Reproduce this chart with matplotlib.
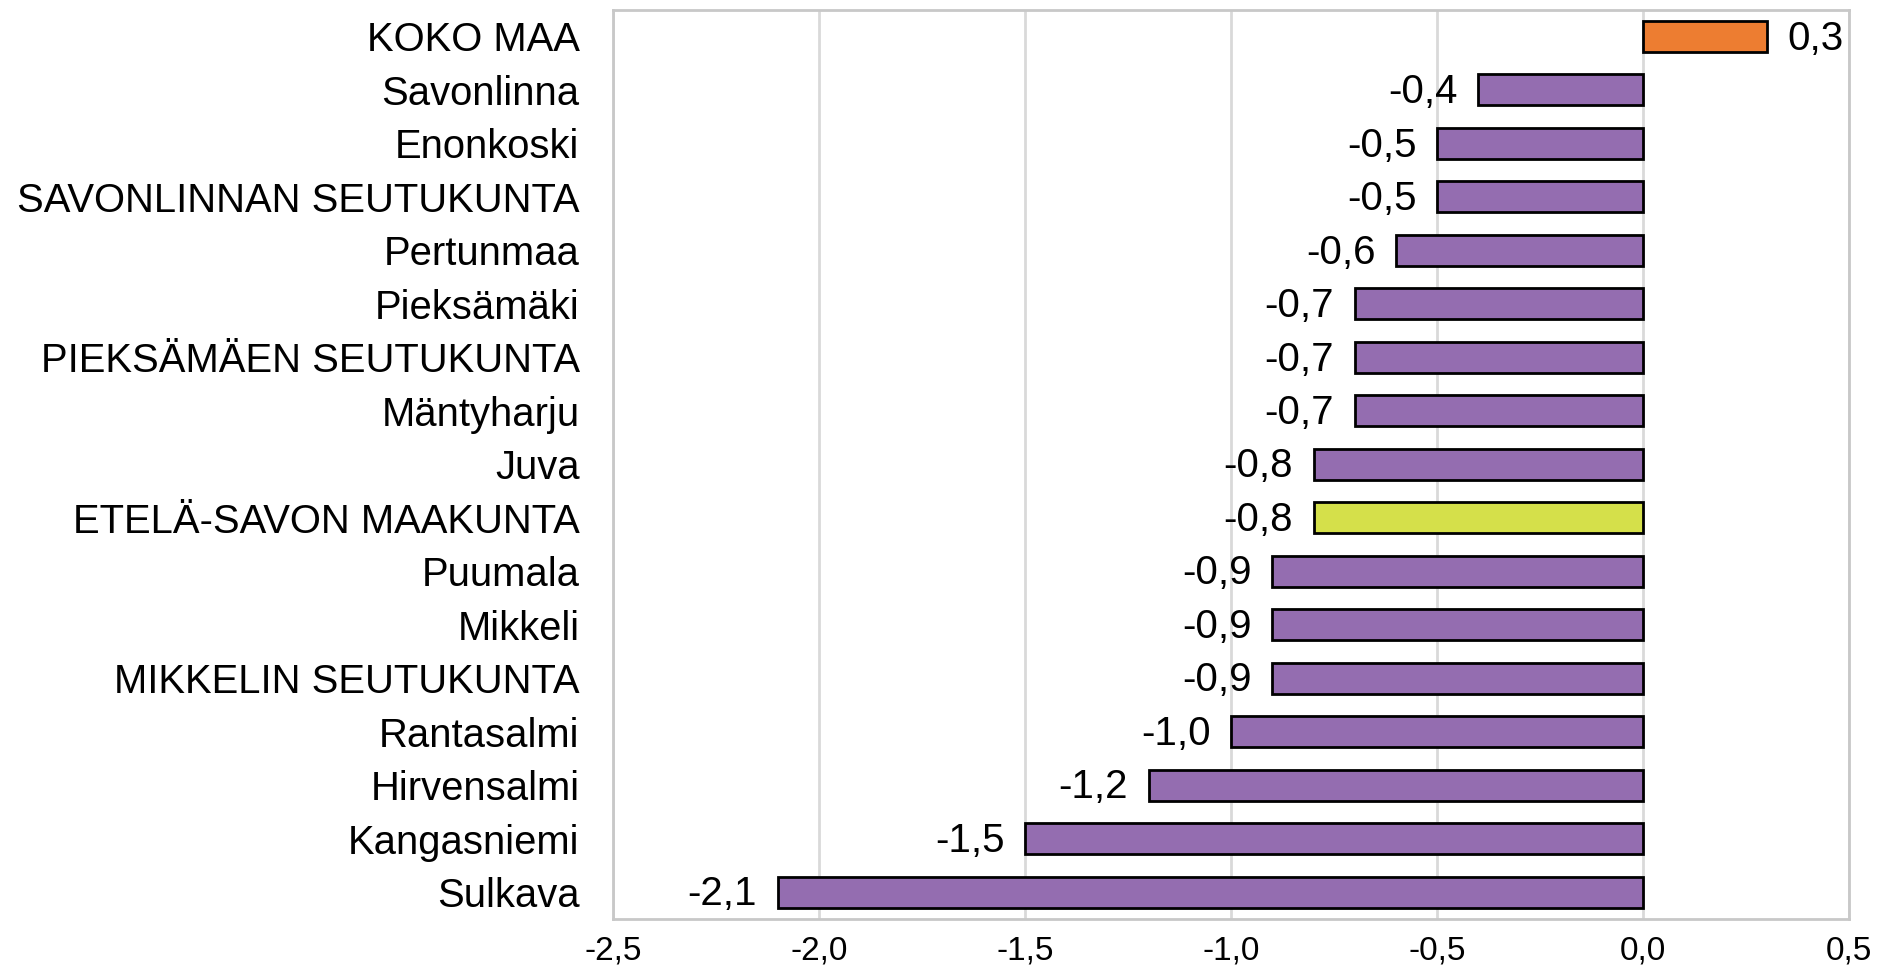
import matplotlib.pyplot as plt
from matplotlib import font_manager

# data
regions = ['KOKO MAA', 'Savonlinna', 'Enonkoski', 'SAVONLINNAN SEUTUKUNTA', 'Pertunmaa',
           'Pieksämäki', 'PIEKSÄMÄEN SEUTUKUNTA', 'Mäntyharju', 'Juva', 'ETELÄ-SAVON MAAKUNTA',
           'Puumala', 'Mikkeli', 'MIKKELIN SEUTUKUNTA', 'Rantasalmi', 'Hirvensalmi',
           'Kangasniemi', 'Sulkava']
change = [0.3, -0.4, -0.5, -0.5, -0.6, -0.7, -0.7, -0.7, -0.8, -0.8,
          -0.9, -0.9, -0.9, -1.0, -1.2, -1.5, -2.1]
xticks = [-2.5, -2.0, -1.5, -1.0, -0.5, 0.0, 0.5]

purple = '#946db0'
colors = []
for r in regions:
    if r == 'KOKO MAA':
        colors.append('#ed7d31')
    elif r == 'ETELÄ-SAVON MAAKUNTA':
        colors.append('#d5e04a')
    else:
        colors.append(purple)

plt.rcParams['font.family'] = ['Liberation Sans', 'DejaVu Sans']
names = {f.name for f in font_manager.fontManager.ttflist}
tick_family = 'Liberation Sans Narrow' if 'Liberation Sans Narrow' in names else 'Liberation Sans'

fig = plt.figure(figsize=(18.77, 9.74), dpi=100)
ax = fig.add_axes([0.3265, 0.0565, 0.6588, 0.9335])

y = list(range(len(regions)))
ax.barh(y, change, height=0.58, color=colors, edgecolor='black', linewidth=2, zorder=3)

for yi, v in zip(y, change):
    s = f'{v:.1f}'.replace('.', ',')
    if v >= 0:
        ax.text(v + 0.05, yi + 0.04, s, va='center', ha='left', fontsize=29)
    else:
        ax.text(v - 0.05, yi + 0.04, s, va='center', ha='right', fontsize=29)

ax.set_xlim(-2.5, 0.5)
ax.set_ylim(len(regions) - 0.5, -0.5)
ax.set_yticks(y)
ax.set_yticklabels(regions, fontsize=28.8)
ax.set_xticks(xticks)
ax.set_xticklabels([f'{t:.1f}'.replace('.', ',') for t in xticks], fontsize=24, family=tick_family)
ax.tick_params(axis='y', length=0, pad=24)
ax.tick_params(axis='x', length=0, pad=12)
ax.grid(axis='x', color='#d9d9d9', linewidth=2, zorder=0)
for sp in ax.spines.values():
    sp.set_color('#c8c8c8')
    sp.set_linewidth(2)

fig.savefig('out.png', dpi=100)
